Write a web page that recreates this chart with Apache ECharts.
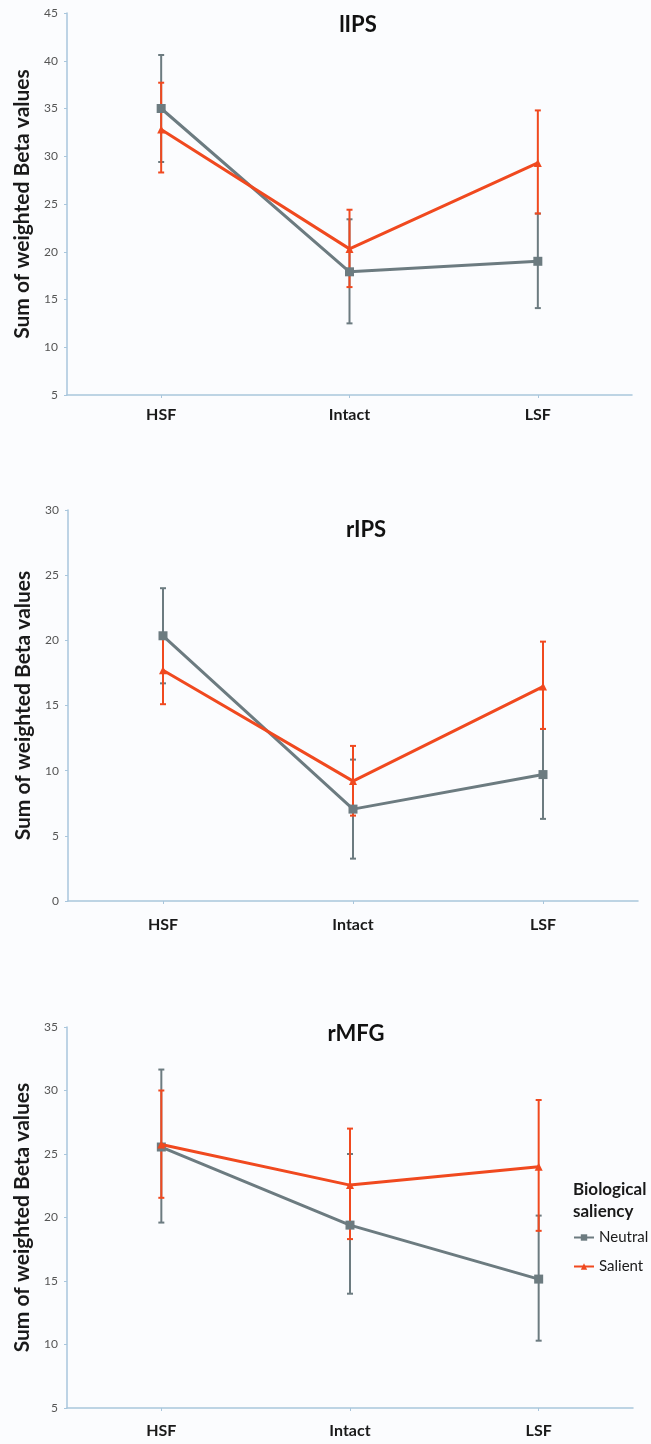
<!DOCTYPE html>
<html>
<head>
<meta charset="utf-8">
<script src="https://cdn.jsdelivr.net/npm/echarts@6/dist/echarts.min.js"></script>
<style>
html,body{margin:0;padding:0;background:#fbfcfe;}
#chart{width:651px;height:1444px;}
</style>
</head>
<body>
<div id="chart"></div>
<script>
// ---- data ----
const categories = ['HSF', 'Intact', 'LSF'];
const panelTitles = ['lIPS', 'rIPS', 'rMFG'];
const seriesNames = ['Neutral', 'Salient'];

// lIPS
const lipsNeutral = [35.0, 17.9, 19.0];
const lipsNeutralLow = [29.4, 12.5, 14.1];
const lipsNeutralHigh = [40.6, 23.4, 24.0];
const lipsSalient = [32.8, 20.3, 29.3];
const lipsSalientLow = [28.3, 16.3, 24.0];
const lipsSalientHigh = [37.7, 24.4, 34.8];

// rIPS
const ripsNeutral = [20.35, 7.05, 9.7];
const ripsNeutralLow = [16.7, 3.25, 6.3];
const ripsNeutralHigh = [24.0, 10.85, 13.2];
const ripsSalient = [17.7, 9.2, 16.45];
const ripsSalientLow = [15.1, 6.55, 13.2];
const ripsSalientHigh = [20.3, 11.9, 19.9];

// rMFG
const rmfgNeutral = [25.55, 19.4, 15.15];
const rmfgNeutralLow = [19.6, 14.0, 10.3];
const rmfgNeutralHigh = [31.65, 25.0, 20.15];
const rmfgSalient = [25.75, 22.55, 24.0];
const rmfgSalientLow = [21.55, 18.3, 18.95];
const rmfgSalientHigh = [30.0, 27.0, 29.25];

// y axis ranges (min, max, interval)
const yMin = [5, 0, 5];
const yMax = [45, 30, 35];
const yInterval = [5, 5, 5];

const panels = [
  {n: lipsNeutral, nl: lipsNeutralLow, nh: lipsNeutralHigh, s: lipsSalient, sl: lipsSalientLow, sh: lipsSalientHigh},
  {n: ripsNeutral, nl: ripsNeutralLow, nh: ripsNeutralHigh, s: ripsSalient, sl: ripsSalientLow, sh: ripsSalientHigh},
  {n: rmfgNeutral, nl: rmfgNeutralLow, nh: rmfgNeutralHigh, s: rmfgSalient, sl: rmfgSalientLow, sh: rmfgSalientHigh}
];

// ---- layout / style ----
const grids = [
  {left: 67, top: 13, width: 565, height: 382},
  {left: 68, top: 510, width: 570, height: 391},
  {left: 67, top: 1027, width: 566, height: 381}
];
const labelMargins = [12, 16, 15];
const titlePos = [{x: 358, y: 25}, {x: 366, y: 530}, {x: 356, y: 1034}];
const NEUTRAL = '#6c7b80';
const SALIENT = '#f0491f';
const AXIS = '#a9c6dc';
const FONT = 'Lato, "Open Sans", sans-serif';

const chart = echarts.init(document.getElementById('chart'));

function errorSeries(idx, low, high, color) {
  const data = categories.map((c, i) => [i, low[i], high[i]]);
  return {
    type: 'custom',
    xAxisIndex: idx, yAxisIndex: idx,
    data: data,
    silent: true,
    z: 1,
    renderItem: function (params, api) {
      const x = api.value(0);
      const lo = api.coord([x, api.value(1)]);
      const hi = api.coord([x, api.value(2)]);
      const cw = 3;
      const style = {stroke: color, lineWidth: 2};
      return {
        type: 'group',
        children: [
          {type: 'line', shape: {x1: lo[0], y1: lo[1], x2: hi[0], y2: hi[1]}, style: style},
          {type: 'line', shape: {x1: lo[0] - cw, y1: lo[1], x2: lo[0] + cw, y2: lo[1]}, style: style},
          {type: 'line', shape: {x1: hi[0] - cw, y1: hi[1], x2: hi[0] + cw, y2: hi[1]}, style: style}
        ]
      };
    }
  };
}

const xAxes = [], yAxes = [], series = [], graphics = [];
panels.forEach((p, i) => {
  xAxes.push({
    type: 'category', gridIndex: i, data: categories, boundaryGap: true,
    axisLine: {lineStyle: {color: AXIS, width: 1.5}},
    axisTick: {show: true, alignWithLabel: true, length: 3, lineStyle: {color: AXIS}},
    axisLabel: {color: '#1a1a1a', fontFamily: FONT, fontWeight: 'bold', fontSize: 16, margin: labelMargins[i]}
  });
  yAxes.push({
    type: 'value', gridIndex: i, min: yMin[i], max: yMax[i], interval: yInterval[i],
    name: 'Sum of weighted Beta values', nameLocation: 'middle', nameGap: 31,
    nameTextStyle: {color: '#1a1a1a', fontFamily: FONT, fontWeight: 'bold', fontSize: 21},
    axisLine: {show: true, lineStyle: {color: AXIS, width: 1.5}},
    axisTick: {show: true, length: 3, lineStyle: {color: AXIS}},
    splitLine: {show: false},
    axisLabel: {color: '#555', fontFamily: FONT, fontSize: 12, margin: 9}
  });
  series.push(errorSeries(i, p.nl, p.nh, NEUTRAL));
  series.push(errorSeries(i, p.sl, p.sh, SALIENT));
  series.push({
    name: 'Neutral', type: 'line', xAxisIndex: i, yAxisIndex: i, data: p.n,
    symbol: 'rect', symbolSize: 9, z: 3,
    lineStyle: {color: NEUTRAL, width: 3}, itemStyle: {color: NEUTRAL}
  });
  series.push({
    name: 'Salient', type: 'line', xAxisIndex: i, yAxisIndex: i, data: p.s,
    symbol: 'triangle', symbolSize: 8, z: 4,
    lineStyle: {color: SALIENT, width: 3}, itemStyle: {color: SALIENT}
  });
  graphics.push({
    type: 'text', x: titlePos[i].x, y: titlePos[i].y,
    style: {text: panelTitles[i], fontFamily: FONT, fontWeight: 'bold', fontSize: 22,
      fill: '#111', align: 'center', verticalAlign: 'middle'}
  });
});

graphics.push({
  type: 'text', left: 573, top: 1179,
  style: {text: 'Biological\nsaliency', fontFamily: FONT, fontWeight: 'bold', fontSize: 17,
    lineHeight: 22, fill: '#1a1a1a'}
});

chart.setOption({
  backgroundColor: '#fbfcfe',
  animation: false,
  grid: grids,
  xAxis: xAxes,
  yAxis: yAxes,
  legend: {
    data: seriesNames, orient: 'vertical', left: 573, top: 1230, padding: 0,
    itemWidth: 20, itemHeight: 8, itemGap: 14,
    textStyle: {color: '#1a1a1a', fontFamily: FONT, fontSize: 15}
  },
  series: series,
  graphic: graphics
});
</script>
</body>
</html>
